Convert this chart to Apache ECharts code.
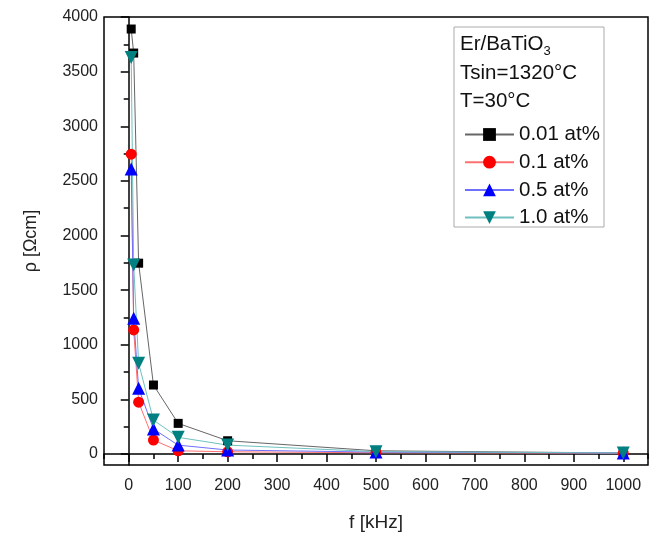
<!DOCTYPE html>
<html>
<head>
<meta charset="utf-8">
<script src="https://cdn.jsdelivr.net/npm/echarts@6/dist/echarts.min.js"></script>
<style>
  html, body { margin: 0; padding: 0; background: #fff; }
  #main { width: 654px; height: 533px; }
</style>
</head>
<body>
<div id="main"></div>
<script>
// frequency in kHz
const freq = [5, 10, 20, 50, 100, 200, 500, 1000];

// resistivity, Ohm cm
const rho001 = [3890, 3670, 1747, 632, 281, 122, 30, 10];
const rho01 = [2745, 1136, 475, 128, 30, 21, 12, 8];
const rho05 = [2608, 1243, 602, 229, 82, 37, 18, 10];
const rho10 = [3630, 1731, 831, 311, 153, 82, 22, 10];

const xMajor = [0, 100, 200, 300, 400, 500, 600, 700, 800, 900, 1000];
const xMinor = [-50, 50, 150, 250, 350, 450, 550, 650, 750, 850, 950, 1050];
const yMajor = [0, 500, 1000, 1500, 2000, 2500, 3000, 3500, 4000];
const yMinor = [250, 750, 1250, 1750, 2250, 2750, 3250, 3750];

const font = 'Liberation Sans, Arial, sans-serif';

const pairs = ys => freq.map((f, i) => [f, ys[i]]);
const plain = v => String(v);

const chart = echarts.init(document.getElementById('main'));

const mkSeries = (name, ys, color, lineColor, symbol, size, rotate) => ({
  name: name,
  type: 'line',
  data: pairs(ys),
  symbol: symbol,
  symbolSize: size,
  symbolRotate: rotate || 0,
  showAllSymbol: true,
  itemStyle: { color: color },
  lineStyle: { color: lineColor, width: 1 },
  emphasis: { disabled: true },
  z: 3
});

chart.setOption({
  animation: false,
  backgroundColor: '#fff',
  grid: {
    left: 104, right: 6, top: 17, bottom: 68,
    show: true, borderColor: '#000', borderWidth: 1.5,
    containLabel: false,
    outerBoundsMode: 'none'
  },
  xAxis: [{
    type: 'value', min: -50, max: 1050,
    name: 'f [kHz]', nameLocation: 'middle', nameGap: 48,
    nameTextStyle: { fontFamily: font, fontSize: 19, color: '#222' },
    axisLine: { lineStyle: { color: '#000', width: 1.5 } },
    axisTick: { customValues: xMajor, length: 8, lineStyle: { color: '#000', width: 1.5 } },
    axisLabel: { customValues: xMajor, formatter: plain, fontFamily: font, fontSize: 16, color: '#222', margin: 13 },
    splitLine: { show: false }
  }, {
    type: 'value', min: -50, max: 1050, position: 'bottom',
    axisLine: { show: false },
    axisTick: { customValues: xMinor, length: 5, lineStyle: { color: '#000', width: 1.5 } },
    axisLabel: { show: false },
    splitLine: { show: false }
  }],
  yAxis: [{
    type: 'value', min: -100, max: 4000,
    name: 'ρ [Ωcm]', nameLocation: 'middle', nameGap: 64, nameRotate: 90,
    nameTextStyle: { fontFamily: font, fontSize: 18, color: '#222' },
    axisLine: { lineStyle: { color: '#000', width: 1.5 } },
    axisTick: { customValues: yMajor, length: 8, lineStyle: { color: '#000', width: 1.5 } },
    axisLabel: { customValues: yMajor, formatter: plain, fontFamily: font, fontSize: 16, color: '#222', margin: 6 },
    splitLine: { show: false }
  }, {
    type: 'value', min: -100, max: 4000, position: 'left',
    axisLine: { show: false },
    axisTick: { customValues: yMinor, length: 5, lineStyle: { color: '#000', width: 1.5 } },
    axisLabel: { show: false },
    splitLine: { show: false }
  }],
  legend: {
    orient: 'vertical',
    left: 459, top: 119,
    itemWidth: 49, itemHeight: 16, itemGap: 6.7,
    selectedMode: false,
    textStyle: { fontFamily: font, fontSize: 20.5, color: '#111' },
    data: ['0.01 at%', '0.1 at%', '0.5 at%', '1.0 at%']
  },
  graphic: [
    { type: 'rect', shape: { x: 454, y: 27, width: 150, height: 200 },
      style: { fill: '#fff', stroke: '#aaa', lineWidth: 1 }, z: 1 },
    { type: 'text', left: 460, top: 34, z: 10,
      style: {
        text: '{a|Er/BaTiO}{s|3}',
        rich: {
          a: { fontFamily: font, fontSize: 20.5, fill: '#111' },
          s: { fontFamily: font, fontSize: 13, fill: '#111', padding: [14, 0, 0, 0] }
        }
      } },
    { type: 'text', left: 460, top: 63, z: 10,
      style: { text: 'Tsin=1320°C', fontFamily: font, fontSize: 20.5, fill: '#111' } },
    { type: 'text', left: 460, top: 91, z: 10,
      style: { text: 'T=30°C', fontFamily: font, fontSize: 20.5, fill: '#111' } }
  ],
  series: [
    mkSeries('0.01 at%', rho001, '#000000', '#666666', 'rect', 9),
    mkSeries('0.1 at%', rho01, '#ff0000', '#ff7070', 'circle', 11),
    mkSeries('0.5 at%', rho05, '#0000ff', '#7070ff', 'triangle', 13),
    mkSeries('1.0 at%', rho10, '#008080', '#70c0c0', 'triangle', 13, 180)
  ]
});
</script>
</body>
</html>
